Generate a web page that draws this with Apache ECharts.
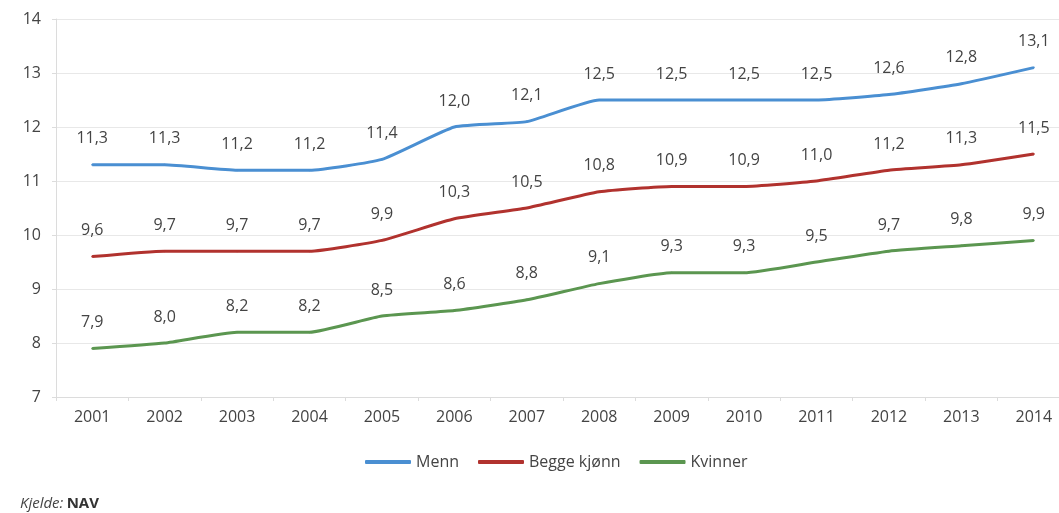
<!DOCTYPE html>
<html>
<head>
<meta charset="utf-8">
<script src="https://cdn.jsdelivr.net/npm/echarts@6/dist/echarts.min.js"></script>
<style>
  html, body { margin: 0; padding: 0; background: #fff; overflow: hidden; }
  /* the reference crops the plot at its right edge, so the canvas is a bit wider than the window */
  #chart { width: 1080px; height: 513px; }
</style>
</head>
<body>
<div id="chart"></div>
<script>
const years = ["2001", "2002", "2003", "2004", "2005", "2006", "2007", "2008", "2009", "2010", "2011", "2012", "2013", "2014"];
const menn = [11.3, 11.3, 11.2, 11.2, 11.4, 12.0, 12.1, 12.5, 12.5, 12.5, 12.5, 12.6, 12.8, 13.1];
const beggeKjonn = [9.6, 9.7, 9.7, 9.7, 9.9, 10.3, 10.5, 10.8, 10.9, 10.9, 11.0, 11.2, 11.3, 11.5];
const kvinner = [7.9, 8.0, 8.2, 8.2, 8.5, 8.6, 8.8, 9.1, 9.3, 9.3, 9.5, 9.7, 9.8, 9.9];

const font = "'Open Sans', sans-serif";

const makeSeries = (name, data, color) => ({
  name,
  type: "line",
  data,
  smooth: 0.15,
  showSymbol: true,
  symbol: "circle",
  symbolSize: 2,
  lineStyle: { color, width: 3 },
  itemStyle: { color },
  label: {
    show: true,
    position: "top",
    distance: 17,
    color: "#444",
    fontFamily: font,
    fontSize: 16,
    formatter: (p) => p.value.toFixed(1).replace(".", ","),
  },
});

const chart = echarts.init(document.getElementById("chart"));
chart.setOption({
  animation: false,
  textStyle: { fontFamily: font },
  grid: { left: 56, right: 10, top: 19, bottom: 116 },
  xAxis: {
    type: "category",
    data: years,
    boundaryGap: true,
    axisLine: { lineStyle: { color: "#dcdcdc" } },
    axisTick: { show: true, length: 4, lineStyle: { color: "#dcdcdc" } },
    axisLabel: { color: "#444", fontSize: 16, margin: 12, fontFamily: font },
  },
  yAxis: {
    type: "value",
    min: 7,
    max: 14,
    interval: 1,
    axisLine: { show: true, lineStyle: { color: "#dcdcdc" } },
    axisTick: { show: true, length: 4, lineStyle: { color: "#dcdcdc" } },
    axisLabel: { color: "#444", fontSize: 16, margin: 15, fontFamily: font },
    splitLine: { lineStyle: { color: "#e8e8e8" } },
  },
  legend: {
    top: 449,
    left: 360,
    itemWidth: 46,
    itemHeight: 4,
    itemGap: 19,
    icon: "roundRect",
    textStyle: { color: "#444", fontSize: 16, fontFamily: font },
    data: ["Menn", "Begge kjønn", "Kvinner"],
  },
  graphic: [
    {
      type: "text",
      left: 20,
      top: 496,
      style: {
        text: "{i|Kjelde:} {b|NAV}",
        rich: {
          i: { fontStyle: "italic", fontSize: 15, fill: "#444", fontFamily: font },
          b: { fontWeight: "bold", fontSize: 15, fill: "#333", fontFamily: font },
        },
      },
    },
  ],
  series: [
    makeSeries("Menn", menn, "#4a8fd2"),
    makeSeries("Begge kjønn", beggeKjonn, "#b1322e"),
    makeSeries("Kvinner", kvinner, "#5b9650"),
  ],
});
</script>
</body>
</html>
